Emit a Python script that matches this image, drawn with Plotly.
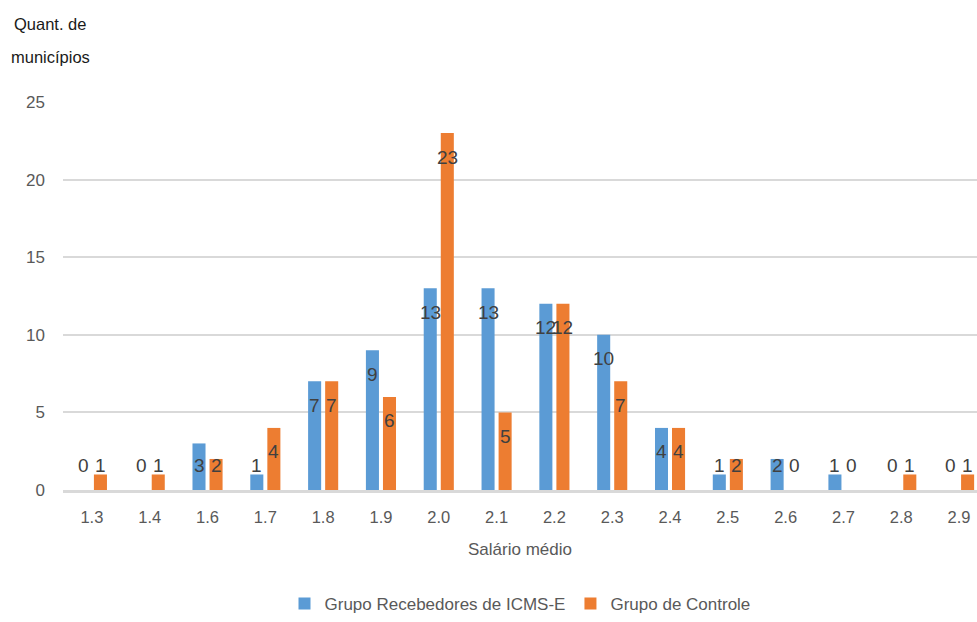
import plotly.graph_objects as go

categories = ["1.3", "1.4", "1.6", "1.7", "1.8", "1.9", "2.0", "2.1",
              "2.2", "2.3", "2.4", "2.5", "2.6", "2.7", "2.8", "2.9"]
recebedores = [0, 0, 3, 1, 7, 9, 13, 13, 12, 10, 4, 1, 2, 1, 0, 0]
controle = [1, 1, 2, 4, 7, 6, 23, 5, 12, 7, 4, 2, 0, 0, 1, 1]

series = [
    ("Grupo Recebedores de ICMS-E", recebedores, "#5b9bd5", -8.5),
    ("Grupo de Controle", controle, "#ed7d31", 8.5),
]

FONT = "Liberation Sans, Arial, sans-serif"

fig = go.Figure()
annotations = []
for name, values, color, shift in series:
    fig.add_trace(go.Bar(
        x=categories, y=values, name=name,
        marker=dict(color=color, line=dict(width=0)),
        hoverinfo="x+y+name",
    ))
    # value labels near the top of each bar, kept above the axis for short bars
    for i, v in enumerate(values):
        annotations.append(dict(
            x=i, y=max(v, 3.1), xref="x", yref="y",
            text=str(v), showarrow=False, xshift=shift, yshift=-24,
            xanchor="center", yanchor="middle",
            font=dict(family=FONT, size=19, color="#404040"),
        ))

annotations += [
    dict(x=-0.014, y=1.201, xref="paper", yref="paper", text="Quant. de",
         showarrow=False, xanchor="center", yanchor="middle",
         font=dict(family=FONT, size=16.5, color="#1a1a1a")),
    dict(x=-0.014, y=1.116, xref="paper", yref="paper", text="municípios",
         showarrow=False, xanchor="center", yanchor="middle",
         font=dict(family=FONT, size=16.5, color="#1a1a1a")),
]

fig.update_layout(
    width=977, height=622,
    margin=dict(l=63, r=0, t=102, b=132),
    paper_bgcolor="white", plot_bgcolor="white",
    barmode="group", bargap=0.41, bargroupgap=0.235,
    font=dict(family=FONT, size=16, color="#595959"),
    showlegend=True,
    legend=dict(orientation="h", x=0.5, xanchor="center",
                yref="container", y=-0.013, yanchor="bottom",
                font=dict(family=FONT, size=17, color="#595959"),
                itemwidth=30, tracegroupgap=0),
    annotations=annotations,
)
fig.update_xaxes(
    type="category", range=[-0.5, 15.31], showgrid=False, ticks="", showline=True,
    linecolor="#d9d9d9", linewidth=3, zeroline=False, automargin=False,
    ticklabelstandoff=10,
    tickfont=dict(family=FONT, size=16.5, color="#595959"),
    title=dict(text="Salário médio", standoff=19,
               font=dict(family=FONT, size=17, color="#595959")),
)
fig.update_yaxes(
    range=[0, 25], dtick=5, showgrid=True, gridcolor="#d9d9d9", gridwidth=1.5,
    zeroline=False, showline=False, ticks="", ticklabelstandoff=17, automargin=False,
    tickfont=dict(family=FONT, size=17, color="#595959"),
)

fig.write_html("out.html")
